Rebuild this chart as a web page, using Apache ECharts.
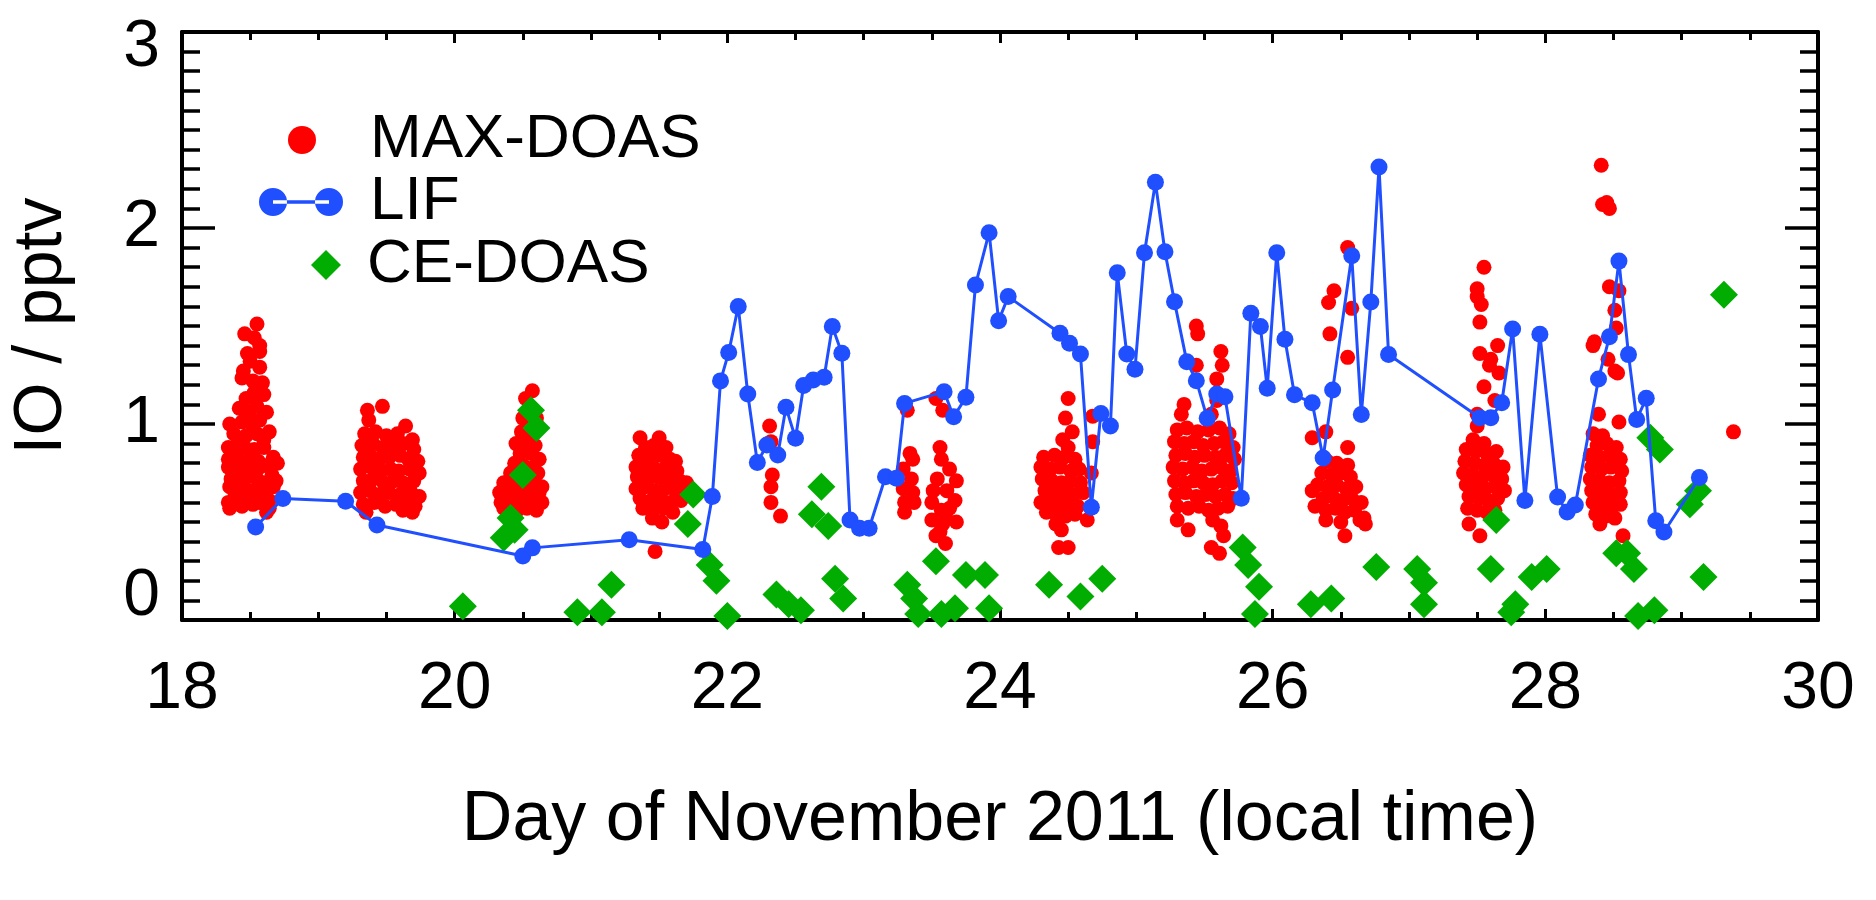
<!DOCTYPE html>
<html>
<head>
<meta charset="utf-8">
<title>IO time series</title>
<script src="https://cdn.jsdelivr.net/npm/echarts@6/dist/echarts.min.js"></script>
<style>
  html, body { margin: 0; padding: 0; background: #fff; }
  #main { width: 1876px; height: 900px; }
</style>
</head>
<body>
<div id="main"></div>
<script>
// MAX-DOAS (red dots) [day, pptv]
var maxDoas = [
  // ~18.5
  [18.55,1.51],[18.46,1.46],[18.53,1.44],[18.57,1.40],[18.48,1.36],[18.57,1.37],[18.50,1.32],[18.57,1.29],[18.45,1.27],[18.44,1.235],
  [18.52,1.22],[18.59,1.21],[18.53,1.16],[18.60,1.15],[18.47,1.13],[18.42,1.08],[18.49,1.06],[18.55,1.09],[18.62,1.06],[18.35,1.00],
  [18.44,1.01],[18.51,1.00],[18.57,1.02],[18.64,0.96],[18.38,0.95],[18.47,0.94],[18.55,0.95],[18.60,0.92],[18.34,0.88],[18.41,0.90],
  [18.46,0.88],[18.53,0.87],[18.60,0.88],[18.67,0.83],[18.70,0.80],[18.34,0.82],[18.40,0.83],[18.49,0.82],[18.56,0.81],[18.63,0.79],
  [18.34,0.78],[18.43,0.77],[18.51,0.76],[18.57,0.78],[18.66,0.74],[18.36,0.72],[18.42,0.71],[18.48,0.73],[18.55,0.72],[18.61,0.70],
  [18.69,0.71],[18.35,0.68],[18.46,0.67],[18.52,0.66],[18.57,0.68],[18.67,0.68],[18.39,0.64],[18.45,0.62],[18.49,0.63],[18.60,0.63],
  [18.64,0.61],[18.34,0.60],[18.41,0.615],[18.57,0.60],[18.64,0.57],[18.35,0.57],[18.44,0.58],[18.52,0.59],[18.62,0.55],
  // ~19.5
  [19.36,1.07],[19.47,1.09],[19.37,1.02],[19.64,0.99],[19.34,0.95],[19.42,0.96],[19.50,0.94],[19.58,0.95],[19.69,0.92],[19.32,0.89],
  [19.40,0.90],[19.47,0.88],[19.55,0.89],[19.62,0.90],[19.70,0.87],[19.33,0.83],[19.38,0.84],[19.45,0.82],[19.52,0.83],[19.60,0.84],
  [19.66,0.82],[19.73,0.81],[19.31,0.77],[19.39,0.78],[19.46,0.76],[19.53,0.77],[19.59,0.76],[19.67,0.77],[19.74,0.75],[19.33,0.71],
  [19.40,0.72],[19.48,0.70],[19.55,0.71],[19.62,0.70],[19.70,0.71],[19.31,0.65],[19.38,0.66],[19.45,0.64],[19.52,0.65],[19.60,0.64],
  [19.68,0.65],[19.74,0.63],[19.33,0.59],[19.41,0.60],[19.49,0.58],[19.57,0.59],[19.64,0.60],[19.71,0.58],[19.35,0.55],[19.62,0.56],[19.69,0.55],
  // ~20.5
  [20.57,1.17],[20.52,1.13],[20.55,1.08],[20.60,1.03],[20.50,1.03],[20.49,0.96],[20.58,0.95],[20.45,0.90],[20.53,0.91],[20.59,0.89],
  [20.48,0.85],[20.56,0.85],[20.62,0.82],[20.44,0.80],[20.50,0.79],[20.58,0.78],[20.41,0.75],[20.48,0.74],[20.55,0.74],[20.61,0.75],
  [20.36,0.70],[20.43,0.70],[20.52,0.69],[20.59,0.70],[20.64,0.68],[20.33,0.65],[20.40,0.65],[20.47,0.64],[20.55,0.64],[20.62,0.65],
  [20.34,0.60],[20.42,0.61],[20.50,0.60],[20.57,0.61],[20.64,0.60],[20.36,0.57],[20.46,0.56],[20.53,0.57],[20.60,0.56],
  // ~21.5
  [21.36,0.93],[21.50,0.93],[21.40,0.88],[21.46,0.89],[21.55,0.88],[21.35,0.84],[21.43,0.83],[21.50,0.84],[21.58,0.82],[21.62,0.81],
  [21.33,0.78],[21.40,0.78],[21.47,0.77],[21.55,0.78],[21.63,0.76],[21.34,0.73],[21.42,0.72],[21.49,0.73],[21.57,0.72],[21.65,0.71],
  [21.70,0.70],[21.33,0.67],[21.40,0.68],[21.47,0.66],[21.54,0.67],[21.62,0.66],[21.69,0.65],[21.36,0.62],[21.44,0.61],[21.51,0.62],
  [21.58,0.60],[21.66,0.61],[21.38,0.57],[21.46,0.56],[21.53,0.57],[21.60,0.55],[21.45,0.52],[21.52,0.50],[21.47,0.35],
  // ~22.3
  [22.31,0.99],[22.32,0.91],[22.33,0.74],[22.32,0.68],[22.32,0.60],[22.39,0.53],
  // ~23.3 - 23.7
  [23.32,1.07],[23.34,0.85],[23.36,0.82],[23.29,0.77],[23.35,0.72],[23.29,0.67],[23.36,0.65],[23.30,0.60],[23.37,0.60],[23.30,0.55],
  [23.53,1.13],[23.58,1.07],[23.56,0.88],[23.57,0.82],[23.63,0.77],[23.68,0.71],[23.51,0.66],[23.61,0.66],[23.67,0.61],[23.50,0.60],
  [23.57,0.56],[23.63,0.57],[23.68,0.50],[23.50,0.51],[23.58,0.49],[23.53,0.43],[23.60,0.39],[23.56,0.45],[23.54,0.72],[23.60,0.53],
  // ~24.5
  [24.50,1.13],[24.48,1.03],[24.68,1.04],[24.53,0.96],[24.46,0.92],[24.68,0.91],[24.50,0.88],[24.32,0.83],[24.40,0.84],[24.47,0.83],
  [24.55,0.82],[24.30,0.78],[24.37,0.77],[24.44,0.78],[24.52,0.76],[24.58,0.77],[24.67,0.75],[24.31,0.72],[24.38,0.71],[24.45,0.70],
  [24.52,0.71],[24.59,0.70],[24.33,0.66],[24.40,0.65],[24.47,0.66],[24.54,0.64],[24.61,0.65],[24.30,0.60],[24.37,0.60],[24.44,0.59],
  [24.51,0.60],[24.57,0.58],[24.34,0.55],[24.41,0.54],[24.48,0.53],[24.55,0.54],[24.64,0.51],[24.45,0.46],[24.43,0.37],[24.50,0.37],[24.41,0.49],
  // ~25.5
  [25.44,1.50],[25.45,1.46],[25.44,1.30],[25.62,1.37],[25.63,1.30],[25.59,1.23],[25.35,1.10],[25.59,1.12],[25.33,1.05],[25.55,1.05],
  [25.30,0.97],[25.37,0.98],[25.45,0.96],[25.53,0.97],[25.61,0.98],[25.68,0.95],[25.28,0.91],[25.35,0.90],[25.42,0.91],[25.49,0.89],
  [25.57,0.90],[25.64,0.91],[25.71,0.88],[25.29,0.84],[25.36,0.85],[25.43,0.83],[25.50,0.84],[25.58,0.83],[25.65,0.84],[25.72,0.82],
  [25.27,0.78],[25.34,0.77],[25.41,0.78],[25.48,0.76],[25.55,0.77],[25.62,0.78],[25.69,0.76],[25.28,0.71],[25.35,0.70],[25.42,0.71],
  [25.49,0.70],[25.56,0.69],[25.63,0.71],[25.70,0.70],[25.29,0.64],[25.36,0.65],[25.44,0.63],[25.51,0.64],[25.58,0.63],[25.65,0.64],
  [25.71,0.62],[25.30,0.58],[25.38,0.57],[25.46,0.58],[25.53,0.56],[25.60,0.57],[25.67,0.58],[25.30,0.51],[25.38,0.46],[25.56,0.51],
  [25.62,0.48],[25.64,0.43],[25.55,0.37],[25.61,0.34],
  // ~26.5
  [26.55,1.90],[26.58,1.59],[26.45,1.68],[26.41,1.62],[26.42,1.46],[26.55,1.34],[26.39,0.96],[26.29,0.93],[26.55,0.88],[26.40,0.81],
  [26.47,0.80],[26.55,0.79],[26.36,0.75],[26.43,0.74],[26.50,0.75],[26.57,0.73],[26.33,0.69],[26.40,0.68],[26.47,0.69],[26.54,0.67],
  [26.61,0.68],[26.29,0.66],[26.37,0.62],[26.44,0.63],[26.51,0.61],[26.58,0.62],[26.65,0.60],[26.31,0.58],[26.39,0.56],[26.46,0.57],
  [26.53,0.55],[26.60,0.56],[26.67,0.52],[26.39,0.51],[26.53,0.43],[26.64,0.51],[26.68,0.49],[26.50,0.50],
  // ~27.5
  [27.55,1.80],[27.50,1.69],[27.50,1.65],[27.53,1.61],[27.52,1.52],[27.65,1.40],[27.52,1.36],[27.60,1.33],[27.59,1.30],[27.66,1.26],
  [27.55,1.19],[27.63,1.12],[27.50,1.05],[27.50,0.99],[27.47,0.92],[27.55,0.90],[27.42,0.87],[27.49,0.86],[27.57,0.85],[27.64,0.86],
  [27.41,0.81],[27.48,0.80],[27.55,0.79],[27.62,0.80],[27.69,0.78],[27.40,0.75],[27.47,0.74],[27.54,0.73],[27.61,0.74],[27.68,0.72],
  [27.42,0.69],[27.49,0.68],[27.56,0.67],[27.63,0.68],[27.70,0.66],[27.44,0.63],[27.51,0.62],[27.58,0.61],[27.65,0.62],[27.43,0.57],
  [27.50,0.56],[27.57,0.55],[27.63,0.56],[27.44,0.49],[27.52,0.43],
  // ~28.5
  [28.41,2.32],[28.42,2.12],[28.47,2.10],[28.45,2.13],[28.47,1.70],[28.54,1.68],[28.51,1.58],[28.52,1.49],[28.36,1.42],[28.35,1.40],
  [28.46,1.33],[28.51,1.27],[28.53,1.26],[28.39,1.05],[28.54,1.01],[28.35,0.95],[28.42,0.94],[28.38,0.89],[28.45,0.90],[28.52,0.88],
  [28.33,0.84],[28.40,0.83],[28.47,0.84],[28.55,0.82],[28.34,0.78],[28.41,0.77],[28.48,0.78],[28.56,0.76],[28.33,0.72],[28.40,0.71],
  [28.47,0.70],[28.54,0.71],[28.34,0.66],[28.41,0.65],[28.48,0.64],[28.55,0.65],[28.35,0.60],[28.42,0.59],[28.49,0.58],[28.55,0.59],
  [28.37,0.54],[28.44,0.53],[28.51,0.52],[28.40,0.49],[28.57,0.43],
  [29.38,0.96]
];

// LIF (blue line with dots)
var lif = [
  [18.54,0.475],[18.74,0.62],[19.20,0.606],[19.43,0.485],[20.50,0.327],[20.57,0.368],[21.28,0.409],[21.82,0.36],[21.89,0.63],[21.95,1.22],
  [22.01,1.365],[22.08,1.60],[22.15,1.153],[22.22,0.804],[22.29,0.893],[22.37,0.842],[22.43,1.085],[22.50,0.927],[22.56,1.196],[22.63,1.224],
  [22.71,1.238],[22.77,1.497],[22.84,1.361],[22.90,0.51],[22.97,0.468],[23.04,0.468],[23.16,0.731],[23.24,0.723],[23.30,1.105],[23.59,1.165],
  [23.66,1.037],[23.75,1.136],[23.82,1.709],[23.92,1.976],[23.99,1.527],[24.06,1.65],[24.44,1.463],[24.51,1.412],[24.59,1.357],[24.67,0.575],
  [24.74,1.054],[24.81,0.99],[24.86,1.772],[24.93,1.357],[24.99,1.279],[25.06,1.874],[25.14,2.233],[25.21,1.879],[25.28,1.624],[25.37,1.318],
  [25.44,1.221],[25.52,1.029],[25.59,1.153],[25.65,1.139],[25.77,0.621],[25.84,1.565],[25.91,1.497],[25.96,1.182],[26.03,1.874],[26.09,1.432],
  [26.16,1.149],[26.29,1.108],[26.37,0.826],[26.44,1.174],[26.58,1.858],[26.65,1.048],[26.72,1.623],[26.78,2.311],[26.85,1.355],[27.52,1.032],
  [27.60,1.032],[27.68,1.108],[27.76,1.485],[27.85,0.61],[27.96,1.458],[28.09,0.627],[28.16,0.551],[28.22,0.587],[28.39,1.23],[28.47,1.445],
  [28.54,1.831],[28.61,1.354],[28.67,1.023],[28.74,1.131],[28.81,0.506],[28.87,0.449],[29.13,0.727]
];

// CE-DOAS (green diamonds)
var ceDoas = [
  [20.06,0.07],[20.56,1.07],[20.60,0.98],[20.50,0.74],[20.41,0.52],[20.44,0.46],[20.36,0.42],[20.90,0.04],[21.08,0.04],[21.15,0.18],
  [21.75,0.64],[21.71,0.49],[21.87,0.28],[21.92,0.20],[22.00,0.02],[22.69,0.68],[22.62,0.54],[22.74,0.48],[22.36,0.13],[22.45,0.08],
  [22.54,0.05],[22.79,0.21],[22.85,0.11],[23.32,0.18],[23.37,0.11],[23.40,0.03],[23.53,0.30],[23.57,0.03],[23.67,0.06],[23.75,0.23],
  [23.89,0.23],[23.92,0.06],[24.36,0.18],[24.59,0.12],[24.75,0.21],[25.78,0.37],[25.82,0.28],[25.90,0.17],[25.87,0.03],[26.28,0.08],
  [26.43,0.11],[26.76,0.27],[27.06,0.26],[27.11,0.19],[27.11,0.08],[27.60,0.26],[27.64,0.51],[27.78,0.08],[27.75,0.04],[27.90,0.22],
  [28.01,0.26],[28.52,0.34],[28.60,0.34],[28.65,0.26],[28.68,0.02],[28.80,0.05],[28.77,0.93],[28.84,0.87],[29.06,0.59],[29.12,0.66],
  [29.16,0.22],[29.31,1.66]
];

var font = "'Liberation Sans', Arial, Helvetica, sans-serif";
var red = '#ff0000', blue = '#1f4fff', green = '#00ad00';

// 两个圆点加一条线的图例图标
var lifIcon = 'path://M0,14a14,14 0 1,0 28,0a14,14 0 1,0 -28,0Z' +
              'M56,14a14,14 0 1,0 28,0a14,14 0 1,0 -28,0Z' +
              'M14,12.3L70,12.3L70,15.7L14,15.7Z';

function xAxisCfg(pos, showLabel) {
    return {
        type: 'value', position: pos, min: 18, max: 30, interval: 2,
        axisLine: { onZero: false, lineStyle: { color: '#000', width: 4 } },
        axisTick: { inside: true, length: 11, lineStyle: { color: '#000', width: 3 } },
        minorTick: { show: true, splitNumber: 4, length: 8, lineStyle: { color: '#000', width: 3 } },
        splitLine: { show: false },
        axisLabel: { show: showLabel, margin: 37, color: '#000', fontSize: 66, fontFamily: font }
    };
}
function yAxisCfg(pos, showLabel) {
    return {
        type: 'value', position: pos, min: 0, max: 3, interval: 1,
        axisLine: { onZero: false, lineStyle: { color: '#000', width: 4 } },
        axisTick: { inside: true, length: 33, lineStyle: { color: '#000', width: 3.5 } },
        minorTick: { show: true, splitNumber: 10, length: 18, lineStyle: { color: '#000', width: 3.5 } },
        splitLine: { show: false },
        axisLabel: {
            show: showLabel, margin: 22, color: '#000', fontSize: 66, fontFamily: font,
            // 顶端和底端的刻度值稍微往里收
            formatter: function (v) {
                if (v === 3) return '{top|3}';
                if (v === 0) return '{bot|0}';
                return String(v);
            },
            rich: {
                top: { fontSize: 66, fontFamily: font, color: '#000', padding: [32, 0, 0, 0] },
                bot: { fontSize: 66, fontFamily: font, color: '#000', padding: [0, 0, 46, 0] }
            }
        }
    };
}

var xBottom = xAxisCfg('bottom', true);
xBottom.name = 'Day of November 2011 (local time)';
xBottom.nameLocation = 'middle';
xBottom.nameGap = 166;
xBottom.nameTextStyle = { color: '#000', fontSize: 70, fontFamily: font };

var yLeft = yAxisCfg('left', true);
yLeft.name = 'IO / pptv';
yLeft.nameLocation = 'middle';
yLeft.nameGap = 106;
yLeft.nameTextStyle = { color: '#000', fontSize: 68, fontFamily: font };

var legendText = function (padLeft) {
    return { color: '#000', fontSize: 62, fontFamily: font, lineHeight: 62, padding: [0, 0, 10, padLeft] };
};

var option = {
    animation: false,
    backgroundColor: '#fff',
    grid: { left: 176, right: 58, top: 32, bottom: 280, containLabel: false },
    legend: [
        {
            data: [{ name: 'MAX-DOAS', icon: 'circle' }],
            left: 288, top: 104, padding: 0, selectedMode: false,
            itemWidth: 28, itemHeight: 28, textStyle: legendText(49)
        },
        {
            data: [{ name: 'LIF', icon: lifIcon, itemStyle: { color: blue, borderWidth: 0 } }],
            left: 259, top: 166, padding: 0, selectedMode: false,
            itemWidth: 84, itemHeight: 28, textStyle: legendText(22)
        },
        {
            data: [{ name: 'CE-DOAS', icon: 'diamond' }],
            left: 311, top: 229, padding: 0, selectedMode: false,
            itemWidth: 30, itemHeight: 30, textStyle: legendText(21)
        }
    ],
    xAxis: [xBottom, xAxisCfg('top', false)],
    yAxis: [yLeft, yAxisCfg('right', false)],
    series: [
        {
            name: 'MAX-DOAS', type: 'scatter', data: maxDoas,
            symbol: 'circle', symbolSize: 15,
            itemStyle: { color: red, opacity: 1 }
        },
        {
            name: 'LIF', type: 'line', data: lif,
            symbol: 'circle', symbolSize: 17, showSymbol: true,
            lineStyle: { color: blue, width: 3 },
            itemStyle: { color: blue, borderWidth: 0 }
        },
        {
            name: 'CE-DOAS', type: 'scatter', data: ceDoas,
            symbol: 'diamond', symbolSize: 28,
            itemStyle: { color: green, opacity: 1 }
        }
    ]
};

var chart = echarts.init(document.getElementById('main'));
chart.setOption(option);
</script>
</body>
</html>
